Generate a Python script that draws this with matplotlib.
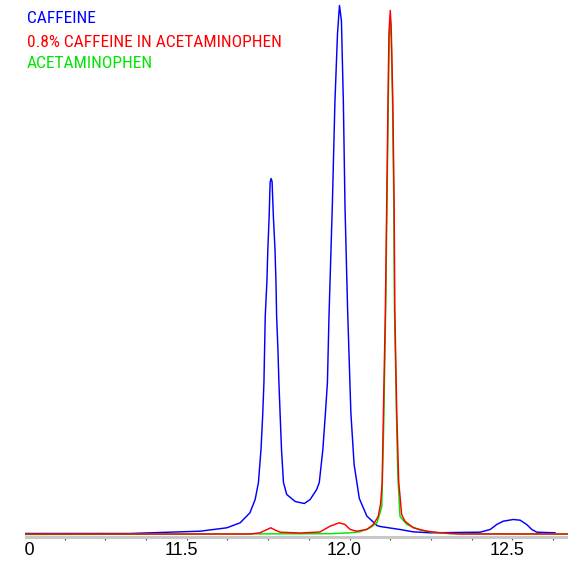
import numpy as np
import matplotlib
matplotlib.use('Agg')
import matplotlib.pyplot as plt
from matplotlib.patches import Rectangle
from matplotlib.transforms import ScaledTranslation
from matplotlib import font_manager

plt.rcParams['font.family'] = ['Liberation Sans', 'DejaVu Sans']

# retention time (min) and detector signal
caffeine_t = [11.003, 11.326, 11.418, 11.541, 11.623, 11.664, 11.694, 11.710, 11.720, 11.728,
              11.733, 11.737, 11.741, 11.746, 11.749, 11.753, 11.756, 11.759, 11.762, 11.766,
              11.771, 11.774, 11.776, 11.780, 11.783, 11.787, 11.791, 11.797, 11.807, 11.833,
              11.861, 11.879, 11.899, 11.907, 11.918, 11.926, 11.932, 11.937, 11.947, 11.955,
              11.963, 11.969, 11.975, 11.981, 11.986, 11.994, 12.004, 12.014, 12.030, 12.053,
              12.084, 12.094, 12.155, 12.195, 12.247, 12.401, 12.432, 12.452, 12.472, 12.503,
              12.524, 12.544, 12.560, 12.575, 12.631]
caffeine_y = [1, 1, 2, 3.3, 6.7, 11.7, 21.7, 35, 51.7, 85,
              118, 152, 218, 252, 285, 318, 352, 356, 353, 318,
              285, 252, 218, 185, 152, 118, 85, 52, 40, 33,
              31, 35, 45, 52, 85, 122, 152, 220, 328, 432,
              501, 529, 514, 432, 328, 225, 122, 70, 36, 18.5,
              9, 8, 5, 2.7, 1.7, 2.3, 5, 10, 13.3, 15,
              14.3, 10, 5, 2.3, 1.7]

mix_t = [11.003, 11.694, 11.725, 11.740, 11.758, 11.774, 11.787, 11.848, 11.909, 11.940,
         11.968, 11.986, 12.002, 12.022, 12.053, 12.073, 12.088, 12.095, 12.100, 12.104,
         12.110, 12.114, 12.118, 12.121, 12.125, 12.128, 12.133, 12.137, 12.139, 12.145,
         12.151, 12.160, 12.170, 12.196, 12.237, 12.278, 12.339, 12.671]
mix_y = [0.5, 0.5, 1.7, 4, 6.7, 4, 2.3, 1.5, 2.5, 8.3,
         11.7, 10, 5, 3.3, 5, 10, 18, 30, 50, 122,
         225, 328, 432, 501, 524, 507, 432, 328, 225, 122,
         53, 20, 13.3, 6.7, 3.3, 1.7, 0.5, 0.5]

acet_t = [11.003, 11.940, 12.002, 12.032, 12.063, 12.084, 12.094, 12.099, 12.105, 12.111,
          12.115, 12.119, 12.122, 12.125, 12.128, 12.132, 12.136, 12.138, 12.144, 12.148,
          12.155, 12.176, 12.217, 12.256, 12.309, 12.671]
acet_y = [0, 0.8, 1.7, 2.7, 6.7, 11.7, 22, 28, 110, 225,
          330, 432, 500, 515, 495, 432, 328, 225, 122, 60,
          18, 10, 4.3, 2.3, 0.8, 0.5]

labels = ['CAFFEINE', '0.8% CAFFEINE IN ACETAMINOPHEN', 'ACETAMINOPHEN']
colors = ['#0000ff', '#ff0000', '#00e600']
major_ticks = [11.0, 11.5, 12.0, 12.5]
tick_labels = ['11.0', '11.5', '12.0', '12.5']

# the original uses a very narrow sans; take a condensed face if there is one
names = {f.name for f in font_manager.fontManager.ttflist}
legend_font = 'Roboto'
legend_size = 11
for cand in ['Liberation Sans Narrow', 'Roboto Condensed', 'Open Sans Condensed', 'DejaVu Sans Condensed']:
    if cand in names:
        legend_font = cand
        legend_size = 12.5
        break

fig = plt.figure(figsize=(5.68, 5.63), dpi=100)
ax = fig.add_axes([24/568, 26.5/563, 1 - 24/568, 536.5/563])

ax.plot(caffeine_t, caffeine_y, color=colors[0], lw=1.05)
ax.plot(acet_t, acet_y, color=colors[2], lw=1.05)
ax.plot(mix_t, mix_y, color=colors[1], lw=1.05)

ax.set_xlim(11.0, 12.671)
ax.set_ylim(-2, 534.5)

for s in ['top', 'right', 'left']:
    ax.spines[s].set_visible(False)
ax.spines['bottom'].set_color('#c8c8c8')
ax.spines['bottom'].set_linewidth(2.2)

ax.set_yticks([])
ax.set_xticks(major_ticks, tick_labels)
ax.set_xticks(np.arange(11.0, 12.67, 0.125), minor=True)
ax.tick_params(axis='x', which='both', direction='out', length=2.2, width=0.8,
               color='#505050', pad=1.5, labelsize=13)

# labels sit a little left of their tick marks
shift = ScaledTranslation(-5.5/100, 0, fig.dpi_scale_trans)
for lbl in ax.get_xticklabels():
    lbl.set_transform(lbl.get_transform() + shift)

# left edge of the plot area is cut off in the original
fig.add_artist(Rectangle((0, 0), 25/568, 32/563, transform=fig.transFigure,
                         facecolor='white', edgecolor='none', zorder=10))

baselines = [23.3, 46.7, 68.5]
for lab, c, b in zip(labels, colors, baselines):
    fig.text(27/568, 1 - b/563, lab, color=c, fontsize=legend_size, va='baseline', ha='left',
             family=[legend_font, 'DejaVu Sans'])

fig.savefig('out.png', dpi=100)
